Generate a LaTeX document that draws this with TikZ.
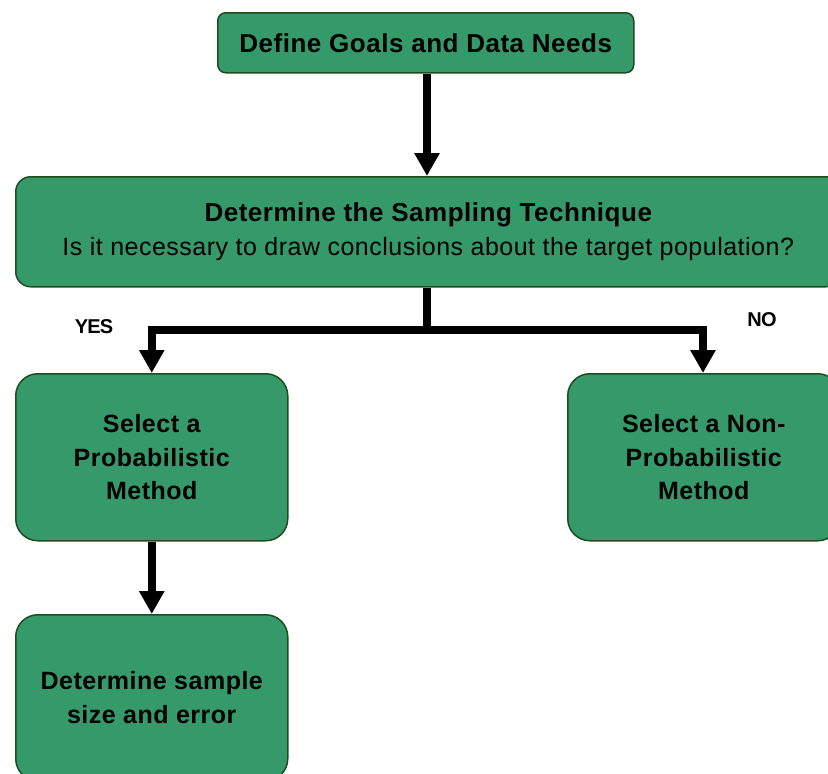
\documentclass[tikz,border=0pt]{standalone}
\usepackage{fontspec}
\setmainfont{Liberation Sans}
\usetikzlibrary{arrows.meta}
\definecolor{boxfill}{HTML}{35996A}
\definecolor{boxline}{HTML}{1E4D1E}
\newfontfamily\spacedfont[LetterSpace=2]{Liberation Sans}
\newfontfamily\tightfont[LetterSpace=-4]{Liberation Sans}
\tikzset{
  box/.style={draw=boxline, fill=boxfill, line width=1.5pt, anchor=north west,
    inner sep=0pt, align=center, font=\spacedfont\bfseries\fontsize{25}{33.6}\selectfont},
  flow/.style={line width=8pt, -{Triangle[width=24pt,length=23pt]}},
  lbl/.style={font=\tightfont\bfseries\fontsize{20}{24}\selectfont, inner sep=0pt}
}
\begin{document}
\begin{tikzpicture}[x=1pt,y=-1pt]
\useasboundingbox (0,0) rectangle (828,774);
\clip (0,0) rectangle (828,774);
\node[box, rounded corners=8pt, minimum width=416pt, minimum height=60pt,
  font=\spacedfont\bfseries\fontsize{26}{30}\selectfont] (goals) at (217,12) {Define Goals and Data Needs};
\node[box, rounded corners=15pt, minimum width=825pt, minimum height=110pt] (tech) at (15,176)
  {{\fontsize{26}{33}\selectfont Determine the Sampling Technique}\\[0pt]
   \mdseries Is it necessary to draw conclusions about the target population?};
\node[box, rounded corners=22pt, minimum width=272pt, minimum height=167pt] (prob) at (15,373)
  {Select a\\Probabilistic\\Method};
\node[box, rounded corners=22pt, minimum width=272pt, minimum height=167pt] (nonprob) at (567,373)
  {Select a Non-\\Probabilistic\\Method};
\node[box, rounded corners=22pt, minimum width=272pt, minimum height=166pt] (size) at (15,614)
  {Determine sample\\size and error};
\coordinate (split) at (427,330);
\draw[flow] (goals.south -| split) -- (tech.north -| split);
\draw[line width=8pt] (tech.south -| split) -- (split);
\draw[flow] (split) -| (prob.north);
\draw[flow] (split) -| (nonprob.north -| 703,0);
\draw[flow] (prob.south) -- (size.north);
\node[lbl] (yes) at (94,327) {YES};
\node[lbl] (no) at (762,320) {NO};
\end{tikzpicture}
\end{document}
